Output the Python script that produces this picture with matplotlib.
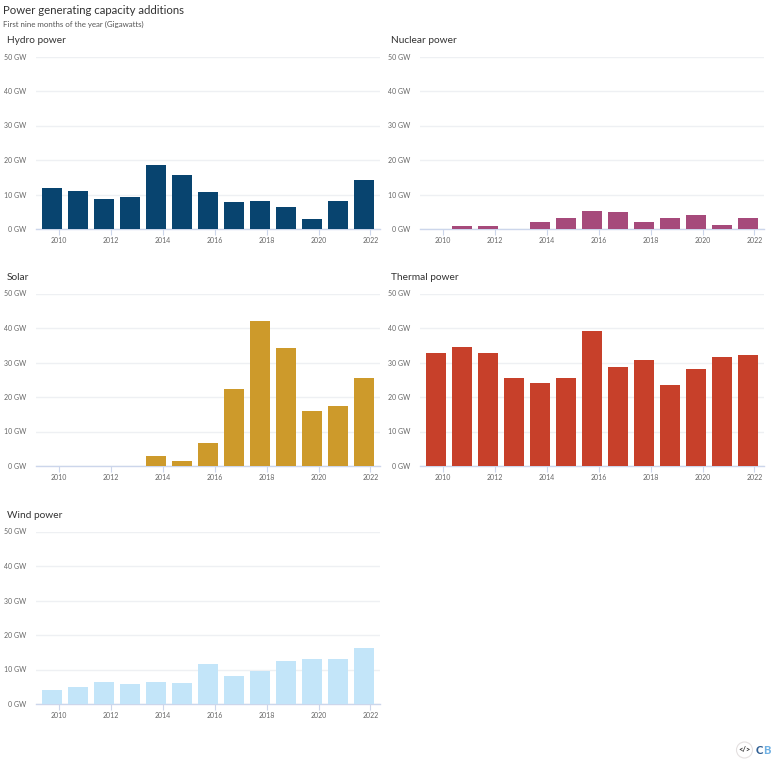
import matplotlib
matplotlib.use('Agg')
import matplotlib.pyplot as plt
from matplotlib.patches import Circle

years = list(range(2010, 2023))
hydro = [12, 10.9, 8.7, 9.2, 18.5, 15.6, 10.7, 7.8, 8.1, 6.4, 2.8, 8.1, 14.2]
nuclear = [0, 1, 1, 0, 2.1, 3.1, 5.3, 4.9, 2.1, 3.3, 4, 1.1, 3.3]
solar = [0, 0, 0, 0, 3, 1.5, 6.6, 22.4, 42, 34.3, 16, 17.5, 25.4]
thermal = [32.7, 34.5, 32.7, 25.5, 24, 25.5, 39.2, 28.8, 30.8, 23.6, 28.2, 31.6, 32.3]
wind = [4, 4.8, 6.5, 5.8, 6.3, 6, 11.5, 8.2, 9.5, 12.6, 13, 13, 16.3]

W, H = 780, 770
plt.rcParams['font.family'] = ['Lato', 'DejaVu Sans']
fig = plt.figure(figsize=(W / 100, H / 100), dpi=100)


def make_panel(name, values, colour, left, bottom):
    # left/bottom in pixels from the top left corner of the image
    width, height = 344, 172.5
    ax = fig.add_axes([left / W, 1 - bottom / H, width / W, height / H])
    # bars sit a bit left of their year ticks in the original
    ax.bar([y - 0.26 for y in years], values, width=0.76, color=colour, zorder=3)
    ax.set_xlim(2009.11, 2022.37)
    ax.set_ylim(0, 50)
    ax.set_yticks([0, 10, 20, 30, 40, 50])
    ax.set_yticklabels([str(v) + ' GW' for v in [0, 10, 20, 30, 40, 50]])
    ax.set_xticks(years[::2])
    ax.grid(axis='y', color='#eef0f3', linewidth=1)
    ax.set_axisbelow(True)
    for s in ['top', 'right', 'left']:
        ax.spines[s].set_visible(False)
    ax.spines['bottom'].set_color('#ccd6eb')
    ax.spines['bottom'].set_linewidth(1)
    ax.tick_params(axis='y', length=0, labelsize=5.0, labelcolor='#666666', pad=7)
    ax.tick_params(axis='x', length=4, width=0.8, color='#ccd6eb', labelsize=5.0,
                   labelcolor='#666666', pad=1.5)
    fig.text((left - 29) / W, 1 - (bottom - 188.5) / H, name, fontsize=7.3,
             color='#333333', va='center', ha='left')
    return ax


make_panel('Hydro power', hydro, '#08446f', 36, 229)
make_panel('Nuclear power', nuclear, '#a64a7b', 420, 229)
make_panel('Solar', solar, '#cd9a2b', 36, 466)
make_panel('Thermal power', thermal, '#c7402a', 420, 466)
make_panel('Wind power', wind, '#c3e5f9', 36, 704)

fig.text(3 / W, 1 - 10 / H, 'Power generating capacity additions', fontsize=8.2,
         color='#333333', va='center', ha='left')
fig.text(3 / W, 1 - 24 / H, 'First nine months of the year (Gigawatts)', fontsize=5.7,
         color='#555555', va='center', ha='left')

# logo, bottom right
overlay = fig.add_axes([0, 0, 1, 1], facecolor='none')
overlay.set_xlim(0, W)
overlay.set_ylim(H, 0)
overlay.axis('off')
overlay.add_patch(Circle((744.5, 750), 8, facecolor='white', edgecolor='#e4e0e0', linewidth=0.8))
overlay.text(744.5, 750, '</>', fontsize=5.5, fontweight='bold', color='#333333',
             ha='center', va='center')
overlay.text(763, 750, 'C', fontsize=8, fontweight='black', color='#2f5f94',
             ha='right', va='center')
overlay.text(763.3, 750, 'B', fontsize=8, fontweight='black', color='#6fb0e3',
             ha='left', va='center')

fig.savefig('out.png', dpi=100)
